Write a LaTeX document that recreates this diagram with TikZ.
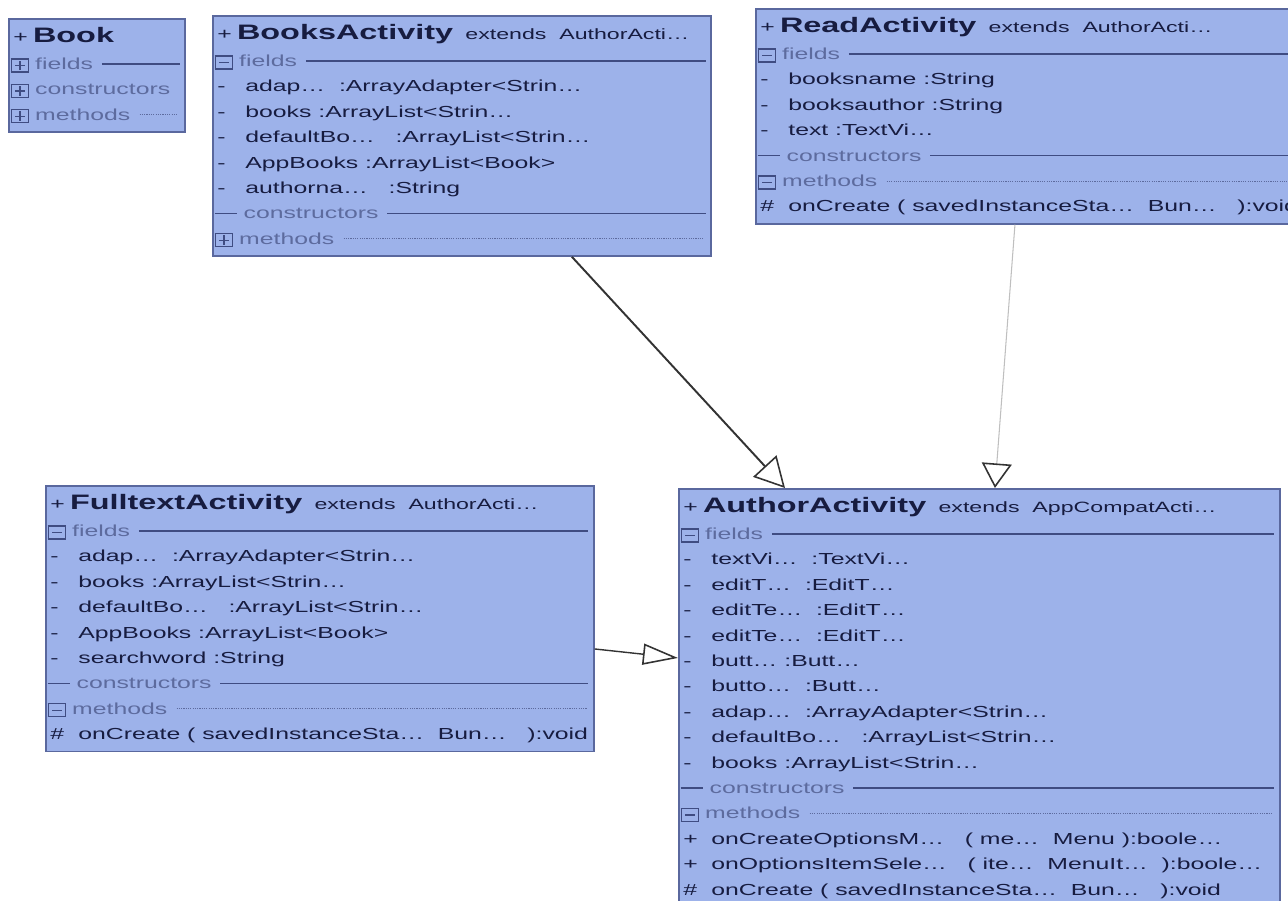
\documentclass[tikz,border=0pt]{standalone}
\usepackage{fontspec}
\usepackage{xcolor}
\usepackage{tikz}
\usetikzlibrary{arrows.meta}

\newfontfamily\umlfont[FakeStretch=1.55]{Liberation Sans}

\definecolor{umlfill}{HTML}{9DB2EA}
\definecolor{umledge}{HTML}{5A689E}
\definecolor{umltext}{HTML}{171C40}
\definecolor{umlsec}{HTML}{5D6B9E}
\definecolor{umlrule}{HTML}{3F4C82}

\newcommand{\solidrule}{\textcolor{umlrule}{\leaders\hrule height 3.5pt depth -2.7pt\hfill}}
\newcommand{\dottedrule}{\textcolor{umlsec}{\leaders\hbox to 1.3pt{\hss\vrule height 3.3pt depth -2.8pt width 0.65pt\hss}\hfill}}
\newcommand{\rowstrut}{\vrule height 0pt depth 1.5pt width 0pt}
\newcommand{\umlrow}[1]{\hbox to\hsize{\rowstrut\hspace{2.5pt}#1\hss}}
\newcommand{\umltitle}[2]{\umlrow{+\hspace{3pt}{\fontsize{11.9}{12}\selectfont\bfseries #1}\hspace{7pt}{\fontsize{8.5}{12}\selectfont #2}}\vskip0.8pt}
\newcommand{\umlfield}[2]{\umlrow{\makebox[16pt][l]{#1}#2}}
\newcommand{\iconbox}[1]{\raisebox{-1pt}{\textcolor{umlrule}{\fboxsep=0pt\fboxrule=0.75pt\fbox{\hbox to 9pt{\hss#1\hss}\vrule height 6.6pt depth 0pt width 0pt}}}}
\newcommand{\minusbox}{\iconbox{\vrule height 3.7pt depth -2.9pt width 5.5pt}}
\newcommand{\plusbox}{\iconbox{\rlap{\vrule height 3.7pt depth -2.9pt width 5.5pt}\hbox to 5.5pt{\hss\vrule height 6pt depth -0.6pt width 0.8pt\hss}}}
\newcommand{\nobox}{\textcolor{umlrule}{\vrule height 3.5pt depth -2.7pt width 13pt}}
\newcommand{\umlsection}[3]{\hbox to\hsize{\rowstrut\hspace{1pt}#1\hspace{3.5pt}\textcolor{umlsec}{#2}\hspace{5pt}#3\hspace{3pt}}}
\newcommand{\umlclass}[2]{\vbox{\hsize=#1\baselineskip=14.46pt\lineskip=0pt\lineskiplimit=-100pt #2}}

\begin{document}
\begin{tikzpicture}[x=0.02cm, y=-0.02cm,
  umlbox/.style={rectangle, draw=umledge, line width=1pt, fill=umlfill, anchor=north west,
             inner xsep=0pt, inner ysep=4.9pt, text=umltext,
             font=\umlfont\fontsize{9.1}{14.46}\selectfont},
  arr/.style={-{Triangle[open, length=17pt, width=18pt, line width=0.9pt]}, line width=1.1pt, black!80},
  farr/.style={-{Triangle[open, length=14pt, width=17pt, line width=0.9pt, color=black!80]}, line width=0.6pt, black!25},
  sarr/.style={-{Triangle[open, length=20pt, width=12pt, line width=0.9pt]}, line width=0.8pt, black!80},
]
\path[use as bounding box] (0,0) rectangle (1288,901);
\clip (0,0) rectangle (1288,901);

\node[umlbox] (book) at (8,18) {\umlclass{3.52cm}{%
  \umltitle{Book}{}
  \umlsection{\plusbox}{fields}{\solidrule}
  \umlsection{\plusbox}{constructors}{\hfill}
  \umlsection{\plusbox}{methods}{\dottedrule}}};

\node[umlbox] (books) at (212,15) {\umlclass{9.96cm}{%
  \umltitle{BooksActivity}{extends~~AuthorActi\ldots}
  \umlsection{\minusbox}{fields}{\solidrule}
  \umlfield{-}{adap\ldots~~:ArrayAdapter<Strin\ldots}
  \umlfield{-}{books :ArrayList<Strin\ldots}
  \umlfield{-}{defaultBo\ldots~~~:ArrayList<Strin\ldots}
  \umlfield{-}{AppBooks :ArrayList<Book>}
  \umlfield{-}{authorna\ldots~~~:String}
  \umlsection{\nobox}{constructors}{\solidrule}
  \umlsection{\plusbox}{methods}{\dottedrule}}};

\node[umlbox] (read) at (755,8) {\umlclass{11cm}{%
  \umltitle{ReadActivity}{extends~~AuthorActi\ldots}
  \umlsection{\minusbox}{fields}{\solidrule}
  \umlfield{-}{booksname :String}
  \umlfield{-}{booksauthor :String}
  \umlfield{-}{text :TextVi\ldots}
  \umlsection{\nobox}{constructors}{\solidrule}
  \umlsection{\minusbox}{methods}{\dottedrule}
  \umlfield{\#}{onCreate ( savedInstanceSta\ldots~~Bun\ldots~~~):void}}};

\node[umlbox] (full) at (45,485) {\umlclass{10.96cm}{%
  \umltitle{FulltextActivity}{extends~~AuthorActi\ldots}
  \umlsection{\minusbox}{fields}{\solidrule}
  \umlfield{-}{adap\ldots~~:ArrayAdapter<Strin\ldots}
  \umlfield{-}{books :ArrayList<Strin\ldots}
  \umlfield{-}{defaultBo\ldots~~~:ArrayList<Strin\ldots}
  \umlfield{-}{AppBooks :ArrayList<Book>}
  \umlfield{-}{searchword :String}
  \umlsection{\nobox}{constructors}{\solidrule}
  \umlsection{\minusbox}{methods}{\dottedrule}
  \umlfield{\#}{onCreate ( savedInstanceSta\ldots~~Bun\ldots~~~):void}}};

\node[umlbox] (author) at (678,488) {\umlclass{12.02cm}{%
  \umltitle{AuthorActivity}{extends~~AppCompatActi\ldots}
  \umlsection{\minusbox}{fields}{\solidrule}
  \umlfield{-}{textVi\ldots~~:TextVi\ldots}
  \umlfield{-}{editT\ldots~~:EditT\ldots}
  \umlfield{-}{editTe\ldots~~:EditT\ldots}
  \umlfield{-}{editTe\ldots~~:EditT\ldots}
  \umlfield{-}{butt\ldots~:Butt\ldots}
  \umlfield{-}{butto\ldots~~:Butt\ldots}
  \umlfield{-}{adap\ldots~~:ArrayAdapter<Strin\ldots}
  \umlfield{-}{defaultBo\ldots~~~:ArrayList<Strin\ldots}
  \umlfield{-}{books :ArrayList<Strin\ldots}
  \umlsection{\nobox}{constructors}{\solidrule}
  \umlsection{\minusbox}{methods}{\dottedrule}
  \umlfield{+}{onCreateOptionsM\ldots~~~( me\ldots~~Menu ):boole\ldots}
  \umlfield{+}{onOptionsItemSele\ldots~~~( ite\ldots~~MenuIt\ldots~~):boole\ldots}
  \umlfield{\#}{onCreate ( savedInstanceSta\ldots~~Bun\ldots~~~):void}}};

\draw[arr]  ([xshift=7.2cm]books.south west) -- ([xshift=2.14cm]author.north west);
\draw[farr] ([xshift=5.2cm]read.south west) -- ([xshift=6.34cm]author.north west);
\draw[sarr] ([yshift=-3.28cm]full.north east) -- ([yshift=-3.4cm]author.north west);
\end{tikzpicture}
\end{document}
